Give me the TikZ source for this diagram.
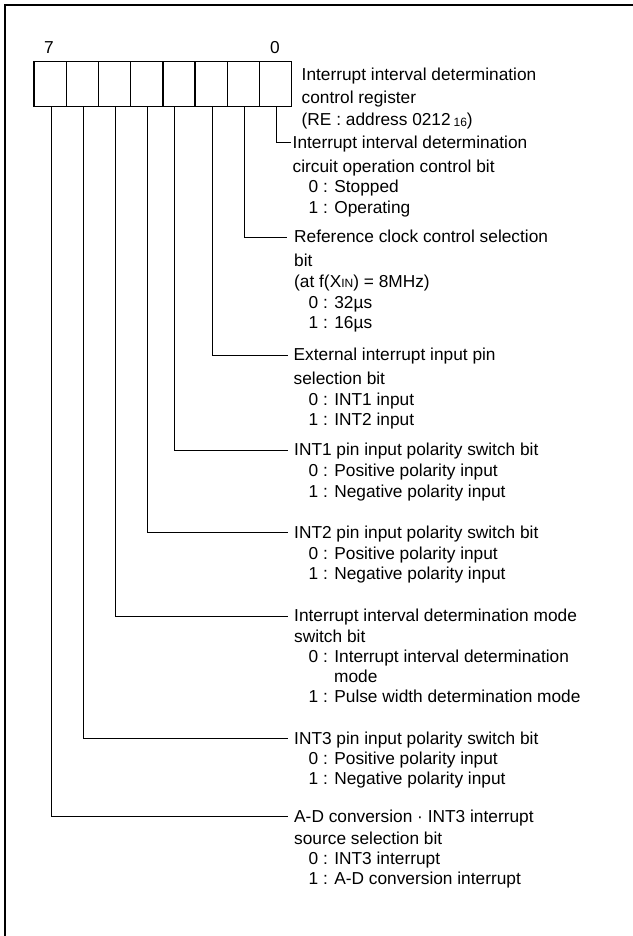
\documentclass[tikz,border=0pt]{standalone}
\usepackage{fontspec}
\setmainfont{Liberation Sans}
\newcommand{\smalltxt}[1]{{\fontsize{12}{12}\selectfont #1}}
\begin{document}
\begin{tikzpicture}[x=1pt,y=-1pt,
  txt/.style={anchor=base west, inner sep=0pt, font=\fontsize{17.3}{20}\selectfont},
  num/.style={inner sep=0pt, font=\fontsize{17.3}{20}\selectfont},
  cell/.style={draw, line width=1.4pt, minimum width=32.21pt, minimum height=45.3pt, inner sep=0pt, anchor=north west},
  wire/.style={line width=1pt},
  frame/.style={line width=2.2pt}]
\useasboundingbox (0,0) rectangle (632,936);
\fill[white] (0,0) rectangle (632,936);
\draw[frame] (5,945) -- (5,5) -- (645,5);
% register cells
\foreach \i in {0,...,7}{
  \pgfmathtruncatemacro\b{7-\i}
  \node[cell] (c\b) at ({33.3+\i*32.21},60.7) {};
}
\node[num] (n7) at (49,48) {7};
\node[num] (n0) at (275,48) {0};
% register name
\node[txt] (r1) at (301.5,80.5) {Interrupt interval determination};
\node[txt] (r2) at (301.5,103.5) {control register};
\node[txt] (r3) at (301.5,125.5) {(RE : address 0212\,\raisebox{-1.5pt}{\smalltxt{16}})};
% bit 0
\node[txt] (t0a) at (292.5,148.5) {Interrupt interval determination};
\node[txt] (t0b) at (292.5,172.5) {circuit operation control bit};
\node[txt] (t0c) at (308.5,193) {0 : Stopped};
\node[txt] (t0d) at (308.5,213) {1 : Operating};
% bit 1
\node[txt] (t1a) at (294,242.5) {Reference clock control selection};
\node[txt] (t1b) at (294,266) {bit};
\node[txt] (t1c) at (294,287) {(at f(X\smalltxt{IN}) = 8MHz)};
\node[txt] (t1d) at (308.5,308.5) {0 : 32µs};
\node[txt] (t1e) at (308.5,328.5) {1 : 16µs};
% bit 2
\node[txt] (t2a) at (293.5,360.5) {External interrupt input pin};
\node[txt] (t2b) at (293.5,384) {selection bit};
\node[txt] (t2c) at (308.5,405.5) {0 : INT1 input};
\node[txt] (t2d) at (308.5,425.5) {1 : INT2 input};
% bit 3
\node[txt] (t3a) at (294,455.5) {INT1 pin input polarity switch bit};
\node[txt] (t3b) at (308.5,476.5) {0 : Positive polarity input};
\node[txt] (t3c) at (308.5,497) {1 : Negative polarity input};
% bit 4
\node[txt] (t4a) at (294,538) {INT2 pin input polarity switch bit};
\node[txt] (t4b) at (308.5,559) {0 : Positive polarity input};
\node[txt] (t4c) at (308.5,579) {1 : Negative polarity input};
% bit 5
\node[txt] (t5a) at (294,621.5) {Interrupt interval determination mode};
\node[txt] (t5b) at (294,642) {switch bit};
\node[txt] (t5c) at (308.5,662.5) {0 : Interrupt interval determination};
\node[txt] (t5d) at (334,682.5) {mode};
\node[txt] (t5e) at (308.5,702.5) {1 : Pulse width determination mode};
% bit 6
\node[txt] (t6a) at (294,744) {INT3 pin input polarity switch bit};
\node[txt] (t6b) at (308.5,764.5) {0 : Positive polarity input};
\node[txt] (t6c) at (308.5,784.5) {1 : Negative polarity input};
% bit 7
\node[txt] (t7a) at (294,822) {A-D conversion · INT3 interrupt};
\node[txt] (t7b) at (294,844) {source selection bit};
\node[txt] (t7c) at (308.5,864.5) {0 : INT3 interrupt};
\node[txt] (t7d) at (308.5,884.5) {1 : A-D conversion interrupt};
% connector ends
\coordinate (e0) at (290.5,143);
\coordinate (e1) at (287,237);
\coordinate (e2) at (288,355);
\coordinate (e3) at (288,450);
\coordinate (e4) at (288,532.5);
\coordinate (e5) at (288,616);
\coordinate (e6) at (288,738.5);
\coordinate (e7) at (288,816.5);
% connectors
\draw[wire] ([xshift=0.9pt]c0.south) |- (e0);
\draw[wire] ([xshift=1.1pt]c1.south) |- (e1);
\draw[wire] ([xshift=1.3pt]c2.south) |- (e2);
\draw[wire] ([xshift=-4.9pt]c3.south) |- (e3);
\draw[wire] ([xshift=0.7pt]c4.south) |- (e4);
\draw[wire] ([xshift=0.9pt]c5.south) |- (e5);
\draw[wire] ([xshift=0.7pt]c6.south) |- (e6);
\draw[wire] ([xshift=1.3pt]c7.south) |- (e7);
\end{tikzpicture}
\end{document}
